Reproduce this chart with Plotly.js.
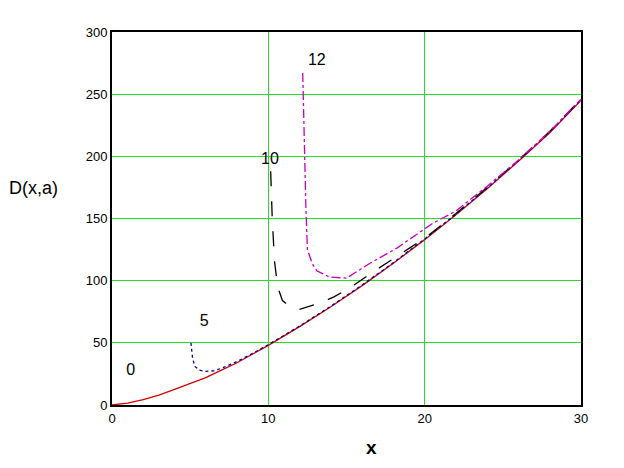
<!DOCTYPE html>
<html>
<head>
<meta charset="utf-8">
<script src="https://cdn.plot.ly/plotly-3.0.1.min.js"></script>
<style>body{margin:0;background:#fff;} #plot{width:624px;height:468px;}</style>
</head>
<body>
<div id="plot"></div>
<script>
// a = 0 (red, solid)
let x0 = [0, 1, 2, 3, 4, 5, 6, 7, 8, 9, 10, 12, 14, 16, 18, 20, 22, 24, 26, 28, 30];
let y0 = [0, 1.5, 4.3, 8, 12.5, 17, 22, 28, 34, 41, 48, 63, 79, 96, 114, 133, 153, 174, 196, 219, 245];

// a = 5 (blue, dotted)
let x5 = [5.05, 5.15, 5.3, 5.6, 6, 6.5, 7, 8, 9, 10, 12, 14, 16, 18, 20, 22, 24, 26, 28, 30];
let y5 = [50, 38, 31, 28, 27, 27.5, 29.5, 35, 41.5, 48.5, 63.5, 79.5, 96.5, 114.5, 133.5, 153.5, 174.5, 196.5, 219.5, 245.5];

// a = 10 (black, dashed)
let x10 = [10.15, 10.25, 10.4, 10.6, 10.9, 11.4, 12, 13.3, 14.2, 15.2, 16.7, 18, 19, 20, 22, 24, 26, 28, 30];
let y10 = [188, 150, 115, 95, 84, 79, 77, 82, 87, 94, 107, 118, 126, 134, 154, 175, 197, 220, 246];

// a = 12 (magenta, dash-dot)
let x12 = [12.2, 12.3, 12.4, 12.5, 12.8, 13.1, 13.9, 15, 16.5, 18.2, 20.5, 22, 24, 26, 28, 30];
let y12 = [267, 210, 160, 125, 114, 108, 103, 102, 114, 126, 146, 156, 176, 197, 220, 246];

let labelX = [1.2, 5.9, 10.1, 13.1];
let labelY = [27, 67, 197, 277];
let labelText = ["0", "5", "10", "12"];

let traces = [
  { x: x0, y: y0, mode: "lines", line: { color: "rgb(210,0,0)", width: 1.3 } },
  { x: x5, y: y5, mode: "lines", line: { color: "rgb(0,0,170)", width: 1.3, dash: "dot" } },
  { x: x10, y: y10, mode: "lines", line: { color: "black", width: 1.3, dash: "longdash" } },
  { x: x12, y: y12, mode: "lines", line: { color: "rgb(200,0,200)", width: 1.3, dash: "dashdot" } },
  { x: labelX, y: labelY, mode: "text", text: labelText, textfont: { family: "Liberation Sans, Arial", size: 16, color: "black" } }
];

let layout = {
  width: 624, height: 468,
  showlegend: false,
  margin: { l: 112, r: 43, t: 32, b: 63 },
  paper_bgcolor: "white", plot_bgcolor: "white",
  font: { family: "Liberation Sans, Arial", size: 13, color: "black" },
  xaxis: {
    range: [0, 30], tickvals: [0, 10, 20, 30], ticks: "",
    showgrid: true, gridcolor: "rgb(40,220,40)", gridwidth: 1.3,
    zeroline: false, showline: true, mirror: true, linecolor: "black", linewidth: 2
  },
  yaxis: {
    range: [0, 300], tickvals: [0, 50, 100, 150, 200, 250, 300], ticks: "",
    showgrid: true, gridcolor: "rgb(40,220,40)", gridwidth: 1.3,
    zeroline: false, showline: true, mirror: true, linecolor: "black", linewidth: 2
  },
  annotations: [
    { text: "D(x,a)", xref: "paper", yref: "paper", x: -0.168, y: 0.582, showarrow: false,
      xanchor: "center", yanchor: "middle", font: { size: 18 } },
    { text: "<b>x</b>", xref: "paper", yref: "paper", x: 0.554, y: -0.115, showarrow: false,
      xanchor: "center", yanchor: "middle", font: { size: 19 } }
  ]
};

Plotly.newPlot("plot", traces, layout, { displayModeBar: false });
</script>
</body>
</html>
